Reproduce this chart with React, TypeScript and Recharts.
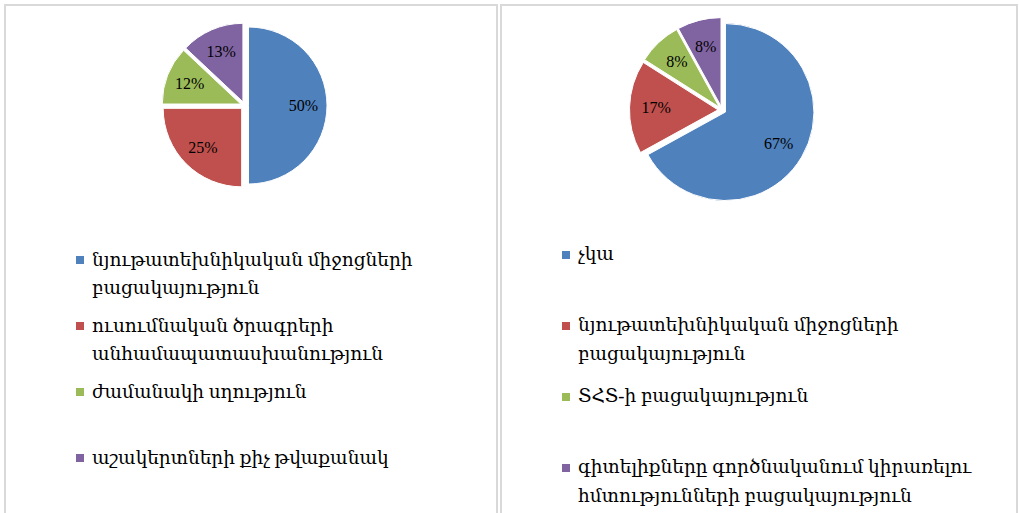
import React from 'react';
import { PieChart, Pie, Cell, Legend, Sector } from 'recharts';

// left chart: reasons (share of answers, %)
const leftNames = [
  'նյութատեխնիկական միջոցների բացակայություն',
  'ուսումնական ծրագրերի անհամապատասխանություն',
  'ժամանակի սղություն',
  'աշակերտների քիչ թվաքանակ',
];
const leftValues = [50, 25, 12, 13];

// right chart
const rightNames = [
  'չկա',
  'նյութատեխնիկական միջոցների բացակայություն',
  'ՏՀՏ-ի բացակայություն',
  'գիտելիքները գործնականում կիրառելու հմտությունների բացակայություն',
];
const rightValues = [67, 17, 8, 8];

const colors = ['#4F81BD', '#C0504D', '#9BBB59', '#8064A2'];

const RAD = Math.PI / 180;
const EXPLODE = 4;

const explodedSector = (props: any) => {
  const { cx, cy, midAngle } = props;
  const dx = EXPLODE * Math.cos(-midAngle * RAD);
  const dy = EXPLODE * Math.sin(-midAngle * RAD);
  return <Sector {...props} cx={cx + dx} cy={cy + dy} />;
};

const renderLabel = (props: any) => {
  const { cx, cy, midAngle, outerRadius, value } = props;
  const r = outerRadius * 0.7 + EXPLODE;
  const x = cx + r * Math.cos(-midAngle * RAD);
  const y = cy + r * Math.sin(-midAngle * RAD);
  return (
    <text
      x={x}
      y={y}
      textAnchor="middle"
      dominantBaseline="central"
      fill="#000"
      fontSize={16}
      fontFamily="'Liberation Serif', 'DejaVu Serif', serif"
    >
      {value}%
    </text>
  );
};

// legend drawn in the data order (recharts would sort it by name)
const makeLegend = (names: string[], slot: number, lineH: number, textW: number) => () => (
  <div style={{ fontFamily: "'Liberation Serif', 'DejaVu Serif', serif", fontSize: 18.5, color: '#000' }}>
    {names.map((name, i) => (
      <div key={i} style={{ height: slot, display: 'flex', alignItems: 'flex-start' }}>
        <div
          style={{
            width: 8,
            height: 8,
            background: colors[i],
            marginTop: lineH / 2 - 4,
            marginRight: 8,
            flexShrink: 0,
          }}
        />
        <div style={{ width: textW, lineHeight: lineH + 'px' }}>{name}</div>
      </div>
    ))}
  </div>
);

const toData = (names: string[], values: number[]) =>
  names.map((name, i) => ({ name, value: values[i] }));

const leftData = toData(leftNames, leftValues);
const rightData = toData(rightNames, rightValues);

const panel = (left: number, width: number): React.CSSProperties => ({
  position: 'absolute',
  left,
  top: 4,
  width,
  height: 530,
  border: '2px solid #d9d9d9',
  background: '#fff',
  boxSizing: 'border-box',
});

export default function App() {
  return (
    <div style={{ position: 'absolute', left: 0, top: 0, width: 1019, height: 513, overflow: 'hidden', background: '#fff' }}>
      <div style={panel(4, 494)}>
        <PieChart width={490} height={520} margin={{ top: 0, right: 0, bottom: 0, left: 0 }}>
          <Pie
            data={leftData}
            dataKey="value"
            nameKey="name"
            cx={238.5}
            cy={99.5}
            outerRadius={78.5}
            startAngle={90}
            endAngle={-270}
            stroke="#fff"
            strokeWidth={1}
            shape={explodedSector}
            label={renderLabel}
            labelLine={false}
            isAnimationActive={false}
          >
            {leftData.map((_, i) => (
              <Cell key={i} fill={colors[i]} />
            ))}
          </Pie>
          <Legend
            layout="vertical"
            verticalAlign="middle"
            align="center"
            content={makeLegend(leftNames, 66, 28, 335)}
            wrapperStyle={{ left: 70, top: 240, width: 420 }}
          />
        </PieChart>
      </div>
      <div style={panel(500, 518)}>
        <PieChart width={514} height={520} margin={{ top: 0, right: 0, bottom: 0, left: 0 }}>
          <Pie
            data={rightData}
            dataKey="value"
            nameKey="name"
            cx={220}
            cy={104}
            outerRadius={88.5}
            startAngle={90}
            endAngle={-270}
            stroke="#fff"
            strokeWidth={1}
            shape={explodedSector}
            label={renderLabel}
            labelLine={false}
            isAnimationActive={false}
          >
            {rightData.map((_, i) => (
              <Cell key={i} fill={colors[i]} />
            ))}
          </Pie>
          <Legend
            layout="vertical"
            verticalAlign="middle"
            align="center"
            content={makeLegend(rightNames, 71, 29, 410)}
            wrapperStyle={{ left: 60, top: 234, width: 440 }}
          />
        </PieChart>
      </div>
    </div>
  );
}
